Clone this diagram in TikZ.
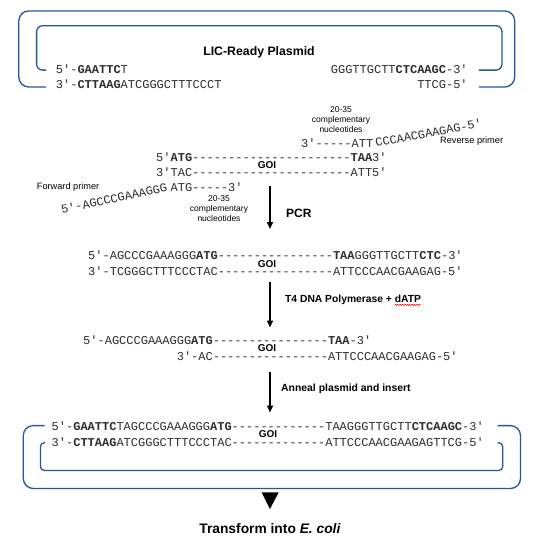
\documentclass[tikz,border=0pt]{standalone}
\usepackage{fontspec}
\setmainfont{Liberation Sans}
\newfontfamily\dnafont{Liberation Mono}
\usetikzlibrary{arrows.meta,decorations.pathmorphing,calc}
\definecolor{bracketblue}{RGB}{38,86,152}
\definecolor{dnagray}{RGB}{45,45,45}
\begin{document}
\begin{tikzpicture}[x=1pt,y=-1pt,
  dna/.style={font=\dnafont\fontsize{12}{14}\selectfont, inner sep=0pt, text height=7pt, text depth=0pt, text=dnagray, anchor=west},
  goi/.style={font=\bfseries\fontsize{10}{12}\selectfont, inner sep=0pt},
  note/.style={font=\fontsize{8.5}{10}\selectfont, inner sep=0pt, text height=6.2pt, text depth=1.6pt},
  primerlbl/.style={font=\fontsize{9.2}{11}\selectfont, inner sep=0pt, anchor=west},
  steplbl/.style={font=\bfseries\fontsize{10.3}{12}\selectfont, inner sep=0pt, anchor=west},
  bracket/.style={draw=bracketblue, line width=1.3pt},
  flow/.style={line width=1.7pt, -{Triangle[length=7pt,width=6pt]}}
]
\useasboundingbox (0,0) rectangle (534,536);

% ---------- LIC-ready plasmid ----------
\draw[bracket, rounded corners=10pt] (46.2,87) -- (18.8,87) -- (18.8,10.9) -- (514.7,10.9) -- (514.7,87) -- (478.8,87);
\draw[bracket, rounded corners=6pt] (46.2,70.1) -- (36.6,70.1) -- (36.6,25.7) -- (502,25.7) -- (502,70.1) -- (478.8,70.1);
\node[font=\bfseries\fontsize{12.3}{14}\selectfont, inner sep=0pt] (lic) at (259,52) {LIC-Ready Plasmid};
\node[dna] (p5) at (55.7,70) {5′-\textbf{GAATTC}T};
\node[dna, anchor=east] (p3) at (467.9,70) {GGGTTGCTT\textbf{CTCAAGC}-3′};
\node[dna] (q3) at (55.7,84.5) {3′-\textbf{CTTAAG}ATCGGGCTTTCCCT};
\node[dna, anchor=east] (q5) at (467.9,84.5) {TTCG-5′};

% ---------- GOI with primers ----------
\node[note] (c1a) at (341,110) {20-35};
\node[note] (c1b) at (341,120) {complementary};
\node[note] (c1c) at (341,130) {nucleotides};
\node[dna] (rp) at (301,143.5) {3′-----ATT};
\node[dna, anchor=base west, rotate=10.5] (rpt) at (376,147) {CCCAACGAAGAG-5′};
\node[primerlbl] (revl) at (440,141.3) {Reverse primer};
\node[dna] (s1) at (156,158) {5′\textbf{ATG}----------------------\textbf{TAA}3′};
\node[goi] (g1) at (267,165) {GOI};
\node[dna] (s2) at (156,172.5) {3′TAC----------------------ATT5′};
\node[primerlbl] (fwl) at (36.7,187) {Forward primer};
\node[dna, anchor=base east, rotate=12] (fpt) at (168,191) {5′-AGCCCGAAAGGG};
\node[dna] (fp) at (170.4,187.5) {ATG-----3′};
\node[note] (c2a) at (219,199.5) {20-35};
\node[note] (c2b) at (219,209.5) {complementary};
\node[note] (c2c) at (219,219.5) {nucleotides};

\coordinate (a1s) at (270,186);
\coordinate (a1e) at (270,229);
\draw[flow] (a1s) -- (a1e);
\node[font=\bfseries\fontsize{12}{14}\selectfont, inner sep=0pt, anchor=west] (pcr) at (286,213) {PCR};

% ---------- PCR product ----------
\node[dna] (r1) at (88,256) {5′-AGCCCGAAAGGG\textbf{ATG}----------------\textbf{TAA}GGGTTGCTT\textbf{CTC}-3′};
\node[goi] (g2) at (267,264) {GOI};
\node[dna] (r2) at (88,272) {3′-TCGGGCTTTCCCTAC----------------ATTCCCAACGAAGAG-5′};

\coordinate (a2s) at (270,281.5);
\coordinate (a2e) at (270,327.5);
\draw[flow] (a2s) -- (a2e);
\node[steplbl] (t4l) at (285,300) {T4 DNA Polymerase + dATP};
\draw[red, line width=0.5pt, decorate, decoration={snake, amplitude=0.7pt, segment length=2.4pt}]
  ($(t4l.base east)+(-26.5,2.2)$) -- ($(t4l.base east)+(0,2.2)$);

% ---------- T4 treated insert ----------
\node[dna] (t1) at (83,340.6) {5′-AGCCCGAAAGGG\textbf{ATG}----------------\textbf{TAA}-3′};
\node[goi] (g3) at (267,348.5) {GOI};
\node[dna] (t2) at (176.6,356.7) {3′-AC----------------ATTCCCAACGAAGAG-5′};

\coordinate (a3s) at (270,372);
\coordinate (a3e) at (270,412.5);
\draw[flow] (a3s) -- (a3e);
\node[steplbl, font=\bfseries\fontsize{10.4}{12}\selectfont] (anl) at (281,388.7) {Anneal plasmid and insert};

% ---------- annealed product ----------
\draw[bracket, rounded corners=10pt] (44.5,425.6) -- (23.3,425.6) -- (23.3,488.5) -- (520.5,488.5) -- (520.5,425.6) -- (497.6,425.6);
\draw[bracket, rounded corners=4pt] (45,442.7) -- (40.4,442.7) -- (40.4,470.5) -- (502.7,470.5) -- (502.7,442.7) -- (497.6,442.7);
\node[dna] (b1) at (51.5,426.5) {5′-\textbf{GAATTC}TAGCCCGAAAGGG\textbf{ATG}-------------TAAGGGTTGCTT\textbf{CTCAAGC}-3′};
\node[goi] (g4) at (268,434.5) {GOI};
\node[dna] (b2) at (51.5,443) {3′-\textbf{CTTAAG}ATCGGGCTTTCCCTAC-------------ATTCCCAACGAAGAGTTCG-5′};

\fill (261.6,492.3) -- (278.7,492.3) -- (270,509) -- cycle;
\node[font=\bfseries\fontsize{13.8}{16}\selectfont, inner sep=0pt] (tr) at (270,528.5) {Transform into \textit{E. coli}};
\end{tikzpicture}
\end{document}
